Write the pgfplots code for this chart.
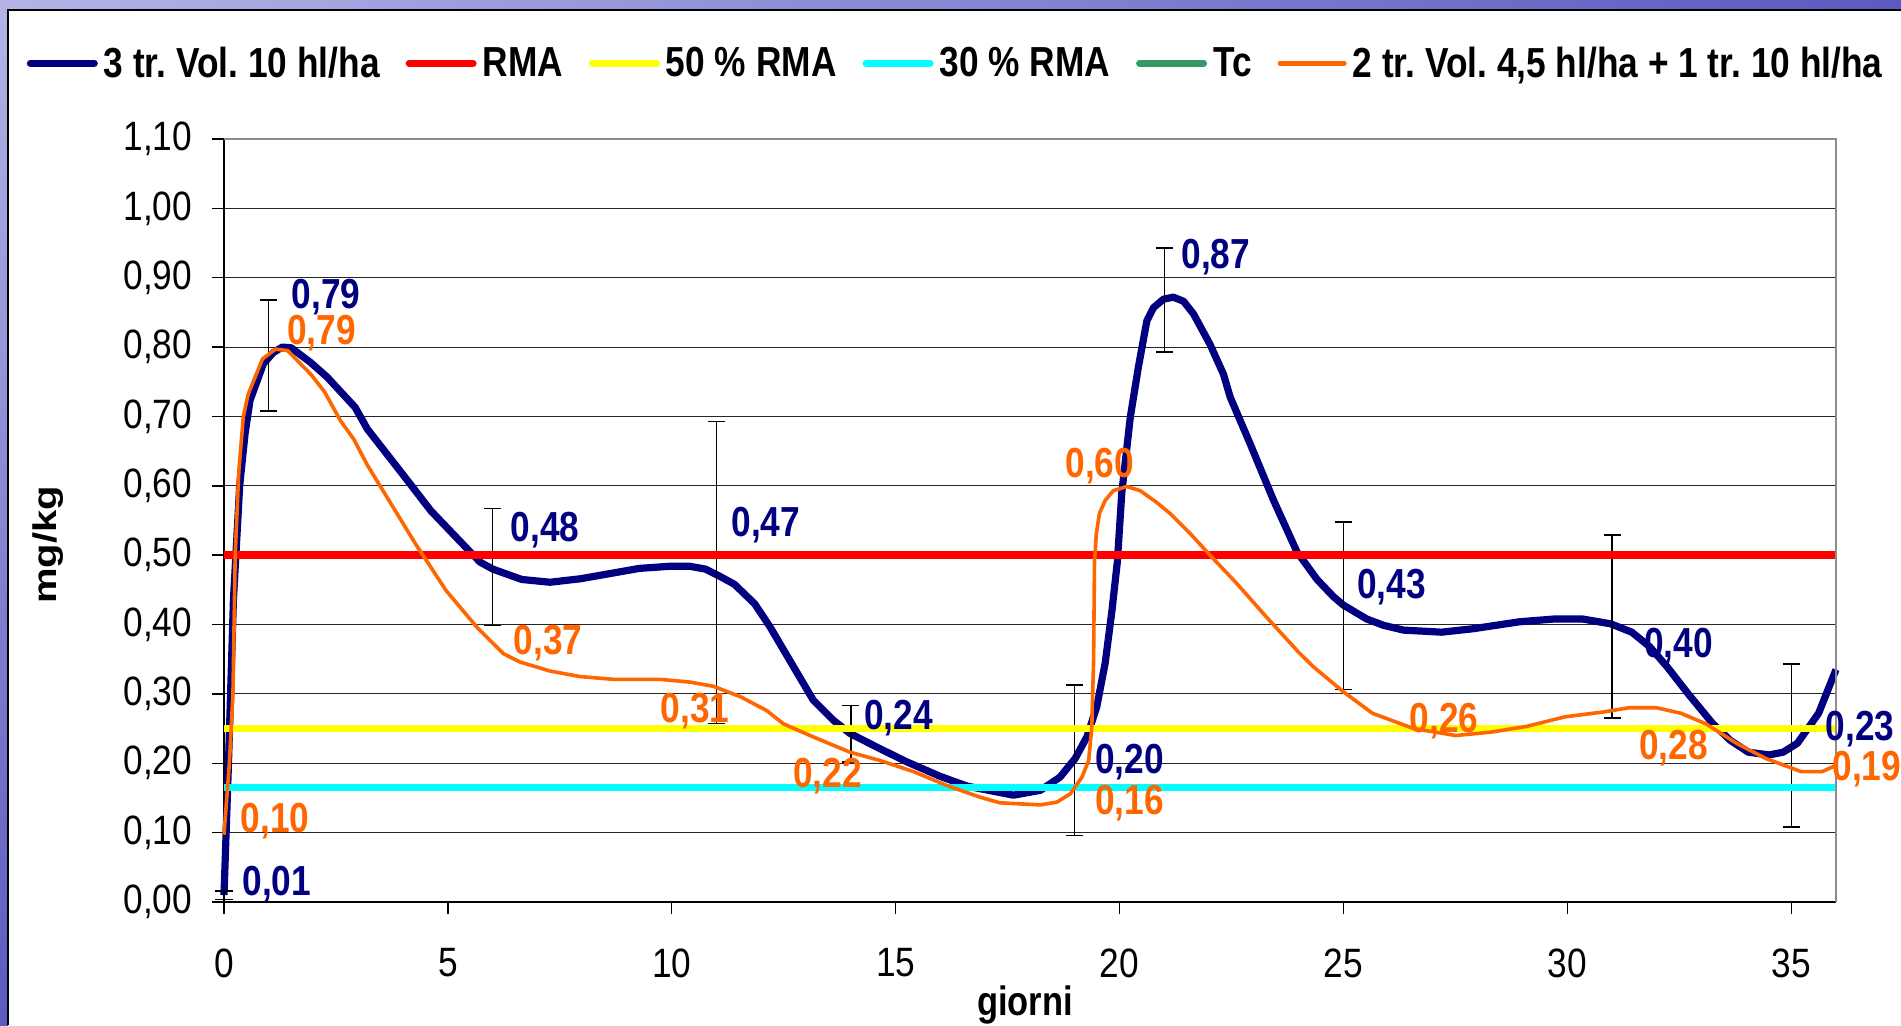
\documentclass[border=0pt]{standalone}
\usepackage{pgfplots}
\pgfplotsset{compat=1.18}
\usepackage{fontspec}
\setmainfont[FakeStretch=0.84]{Liberation Sans}
\newfontfamily\plainsans{Liberation Sans}
\newfontfamily\tickfont[FakeStretch=0.86, WordSpace=0.86]{Liberation Sans}
\definecolor{navyb}{HTML}{000080}
\definecolor{orng}{HTML}{FF6600}
\definecolor{tcg}{HTML}{339966}
\definecolor{cyn}{HTML}{00FFFF}
\definecolor{yel}{HTML}{FFFF00}
\definecolor{rd}{HTML}{FF0000}
\definecolor{stripA}{HTML}{B4B4E6}
\definecolor{stripB}{HTML}{5A5AC0}
\newcommand{\lbl}{\fontsize{21}{25}\selectfont\bfseries}
\frenchspacing
\begin{document}
\begin{tikzpicture}
\useasboundingbox (0,0) rectangle (950.5pt,512.5pt);
\fill[white] (0,0) rectangle (950.5pt,512.5pt);
\shade[left color=stripA, right color=stripB] (0,507.5pt) rectangle (950.5pt,512.5pt);
\shade[top color=stripA, bottom color=stripB] (0,0) rectangle (4pt,512.5pt);
\draw[black, line width=1pt] (4pt,0) -- (4pt,507.5pt) -- (950.5pt,507.5pt);
\begin{axis}[
  at={(112pt,61.5pt)}, anchor=south west,
  scale only axis, width=806pt, height=381.5pt,
  xmin=0, xmax=36, ymin=0, ymax=1.1,
  enlargelimits=false, clip=false,
  xtick={0,5,10,15,20,25,30,35},
  ytick={0,0.1,0.2,0.3,0.4,0.5,0.6,0.7,0.8,0.9,1.0,1.1},
  axis x line*=bottom, axis y line*=left,
  axis line style={black, line width=0.7pt},
  tick align=outside, major tick length=6pt,
  tick style={black, line width=0.7pt},
  ymajorgrids, grid style={black!85, line width=0.5pt},
  /pgf/number format/assume math mode=true,
  tick label style={font=\tickfont\fontsize{20.5}{24}\selectfont},
  y tick label style={/pgf/number format/use comma, /pgf/number format/fixed, /pgf/number format/fixed zerofill, /pgf/number format/precision=2, anchor=east, inner sep=0pt, xshift=-9.7pt},
  x tick label style={anchor=north, inner sep=0pt, yshift=-17pt},
  xlabel={giorni},
  xlabel style={font=\fontsize{20.5}{24}\selectfont\bfseries, at={(axis description cs:0.4969,-0.1481)}, anchor=base},
  legend columns=6,
  legend image code/.code={\draw[#1, line cap=round] (0pt,0pt) -- (32pt,0pt);},
  legend style={draw=none, fill=none, inner sep=0pt, outer sep=0pt,
    at={(axis description cs:-0.1223,1.0992)}, anchor=west,
    font=\fontsize{21}{25}\selectfont\bfseries,
    nodes={inner sep=0pt},
    /tikz/every odd column/.append style={column sep=3pt},
    /tikz/every even column/.append style={column sep=13pt}},
]
% series 1: 3 tr. Vol. 10 hl/ha
\addplot[navyb, line width=3.6pt, line join=round, forget plot] coordinates {
(0,0.01) (0.1,0.2) (0.21,0.435) (0.35,0.60) (0.47,0.675) (0.58,0.723) (0.88,0.776)
(1.1,0.792) (1.3,0.800) (1.5,0.799) (1.93,0.778) (2.3,0.757) (2.93,0.713) (3.2,0.682)
(3.95,0.620) (4.62,0.564) (5.39,0.512) (5.72,0.490) (6.0,0.480) (6.65,0.465) (7.28,0.461)
(7.96,0.466) (9.28,0.481) (9.95,0.484) (10.4,0.484) (10.75,0.480) (11.06,0.470) (11.4,0.458)
(11.85,0.430) (12.2,0.396) (12.72,0.339) (13.16,0.291) (13.61,0.262) (13.98,0.243)
(14.65,0.221) (15.25,0.202) (16.0,0.181) (16.6,0.167) (17.63,0.154) (18.23,0.161)
(18.67,0.180) (19.01,0.207) (19.27,0.238) (19.49,0.281) (19.68,0.345) (19.83,0.42)
(19.95,0.49) (20.05,0.59) (20.24,0.699) (20.42,0.771) (20.61,0.838) (20.76,0.857)
(20.98,0.869) (21.2,0.872) (21.43,0.866) (21.65,0.848) (22.02,0.804) (22.32,0.761)
(22.47,0.728) (22.92,0.660) (23.44,0.579) (23.96,0.505) (24.41,0.465) (24.78,0.440)
(25.0,0.428) (25.52,0.408) (25.89,0.399) (26.34,0.392) (27.19,0.389) (27.9,0.394)
(28.93,0.404) (29.71,0.408) (30.34,0.408) (30.97,0.401) (31.44,0.389) (31.84,0.368)
(32.23,0.339) (32.7,0.300) (33.25,0.257) (33.64,0.233) (34.04,0.216) (34.51,0.212)
(34.82,0.216) (35.14,0.229) (35.61,0.272) (36.0,0.335)};
% error bars of series 1
\addplot[draw=none, mark=none, forget plot,
  error bars/.cd, y dir=both, y explicit,
  error bar style={draw=black, line width=0.7pt},
  error mark options={rotate=90, mark size=4.3pt, line width=0.7pt, draw=black}]
  coordinates {
  (0,0.01) +- (0,0.006)
  (1,0.788) +- (0,0.080)
  (6,0.483) +- (0,0.084)
  (11,0.475) +- (0,0.218)
  (14,0.2425) +- (0,0.0405)
  (19,0.2045) +- (0,0.1085)
  (21,0.868) +- (0,0.075)
  (25,0.427) +- (0,0.121)
  (31,0.397) +- (0,0.132)
  (35,0.2255) +- (0,0.1175)};
% reference lines
\addplot[rd, line width=3.85pt, forget plot] coordinates {(0,0.5) (36,0.5)};
\addplot[yel, line width=3.85pt, forget plot] coordinates {(0,0.25) (36,0.25)};
\addplot[cyn, line width=3.85pt, forget plot] coordinates {(0,0.165) (36,0.165)};
% series 2: 2 tr. Vol. 4,5 hl/ha + 1 tr. 10 hl/ha
\addplot[orng, line width=1.8pt, line join=round, forget plot] coordinates {
(0,0.097) (0.12,0.2) (0.2,0.3) (0.25,0.5) (0.33,0.62) (0.43,0.699) (0.54,0.732)
(0.86,0.783) (1.15,0.797) (1.42,0.795) (1.95,0.760) (2.25,0.735) (2.6,0.694) (2.9,0.667)
(3.2,0.630) (3.93,0.553) (4.28,0.516) (4.96,0.449) (5.65,0.396) (6.24,0.358) (6.61,0.346)
(7.28,0.333) (7.95,0.325) (8.7,0.321) (9.74,0.321) (10.41,0.317) (10.93,0.311)
(11.53,0.296) (12.12,0.276) (12.49,0.257) (13.16,0.238) (13.98,0.216) (14.65,0.204)
(15.4,0.188) (16.14,0.168) (16.89,0.151) (17.33,0.143) (18.23,0.140) (18.6,0.144)
(18.9,0.156) (19.16,0.180) (19.31,0.204) (19.38,0.252) (19.42,0.348) (19.44,0.49)
(19.48,0.53) (19.55,0.56) (19.68,0.579) (19.86,0.593) (20.16,0.599) (20.46,0.593)
(20.83,0.576) (21.13,0.560) (21.58,0.531) (22.02,0.500) (22.62,0.459) (23.25,0.413)
(24.0,0.36) (24.33,0.339) (25.0,0.303) (25.65,0.272) (26.57,0.250) (27.51,0.240)
(28.30,0.245) (29.08,0.253) (29.95,0.267) (30.81,0.274) (31.37,0.280) (32.0,0.280)
(32.54,0.272) (33.09,0.257) (33.80,0.228) (34.43,0.207) (35.22,0.188) (35.69,0.188)
(36.0,0.197)};
% plot area frame top / right
\draw[black!45, line width=1pt] (rel axis cs:0,1) -- (rel axis cs:1,1) -- (rel axis cs:1,0);
% legend
\addlegendimage{navyb, line width=3.5pt}
\addlegendentry{3 tr. Vol. 10 hl/ha}
\addlegendimage{rd, line width=3.5pt}
\addlegendentry{RMA}
\addlegendimage{yel, line width=3.5pt}
\addlegendentry{50 \% RMA}
\addlegendimage{cyn, line width=3.5pt}
\addlegendentry{30 \% RMA}
\addlegendimage{tcg, line width=3.5pt}
\addlegendentry{Tc}
\addlegendimage{orng, line width=2.5pt}
\addlegendentry{2 tr. Vol. 4,5 hl/ha + 1 tr. 10 hl/ha}
% data labels, series 1
\node[text=navyb, font=\lbl] at (axis cs:2.28,0.872) {0,79};
\node[text=navyb, font=\lbl] at (axis cs:7.17,0.536) {0,48};
\node[text=navyb, font=\lbl] at (axis cs:12.1,0.543) {0,47};
\node[text=navyb, font=\lbl] at (axis cs:15.06,0.265) {0,24};
\node[text=navyb, font=\lbl] at (axis cs:20.22,0.201) {0,20};
\node[text=navyb, font=\lbl] at (axis cs:22.15,0.930) {0,87};
\node[text=navyb, font=\lbl] at (axis cs:26.07,0.4535) {0,43};
\node[text=navyb, font=\lbl] at (axis cs:32.48,0.3686) {0,40};
\node[text=navyb, font=\lbl] at (axis cs:36.54,0.249) {0,23};
\node[text=navyb, font=\lbl] at (axis cs:1.18,0.026) {0,01};
% data labels, series 2
\node[text=orng, font=\lbl] at (axis cs:1.14,0.1166) {0,10};
\node[text=orng, font=\lbl] at (axis cs:2.18,0.820) {0,79};
\node[text=orng, font=\lbl] at (axis cs:7.24,0.373) {0,37};
\node[text=orng, font=\lbl] at (axis cs:10.52,0.275) {0,31};
\node[text=orng, font=\lbl] at (axis cs:13.48,0.181) {0,22};
\node[text=orng, font=\lbl] at (axis cs:20.22,0.143) {0,16};
\node[text=orng, font=\lbl] at (axis cs:19.56,0.628) {0,60};
\node[text=orng, font=\lbl] at (axis cs:27.25,0.261) {0,26};
\node[text=orng, font=\lbl] at (axis cs:32.37,0.2225) {0,28};
\node[text=orng, font=\lbl] at (axis cs:36.69,0.1915) {0,19};
% y axis title
\node[rotate=90, anchor=center] at (axis description cs:-0.1092,0.4679)
  {\scalebox{1}[0.82]{\plainsans\fontsize{20}{24}\selectfont\bfseries mg/kg}};
\end{axis}
\end{tikzpicture}
\end{document}
